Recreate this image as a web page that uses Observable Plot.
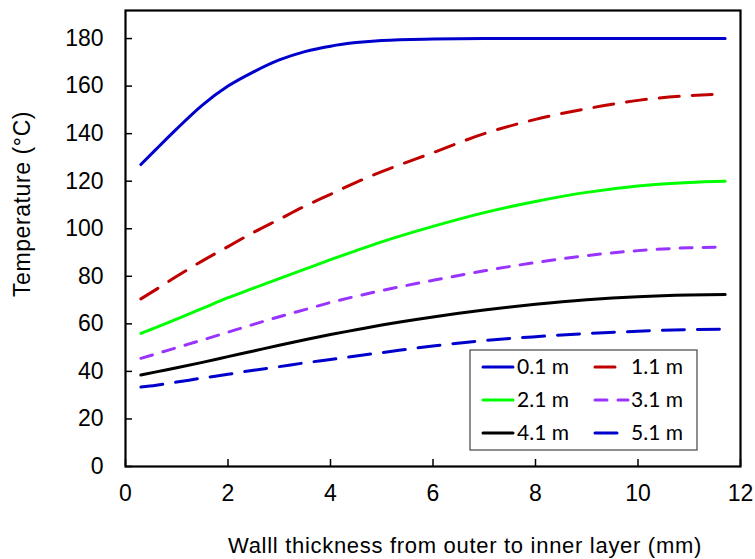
<!DOCTYPE html>
<html><head><meta charset="utf-8">
<script src="https://cdn.jsdelivr.net/npm/d3@7"></script>
<script src="https://cdn.jsdelivr.net/npm/@observablehq/plot@0.6"></script>
<style>body{margin:0;background:#fff} #chart{width:755px;height:559px}</style>
</head><body><div id="chart"></div>
<script>
// Wall thickness (mm) sample positions
const thickness = [0.3, 0.6, 1, 1.5, 2, 2.5, 3, 3.5, 4, 4.5, 5, 6, 7, 8, 9, 10, 11, 11.7];
// Temperature (°C) per series
const t01 = [127, 133.5, 142, 152, 160, 166, 171, 174.5, 176.8, 178.3, 179.2, 179.8, 180, 180, 180, 180, 180, 180];
const t11 = [70.5, 74.5, 80, 86.5, 92.5, 98.5, 104, 109.5, 114.5, 119.5, 124, 132, 140, 146, 150.5, 154, 156, 156.7];
const t21 = [56, 58.5, 62, 66.5, 71, 75, 79, 83, 87, 90.8, 94.5, 101, 106.8, 111.5, 115.3, 118, 119.5, 120];
const t31 = [45.5, 47.4, 50, 53.2, 56.5, 59.8, 63, 66, 69, 71.6, 74, 78.3, 82.3, 85.8, 88.7, 90.8, 92, 92.3];
const t41 = [38.5, 39.8, 41.5, 43.8, 46.2, 48.6, 51, 53.3, 55.5, 57.5, 59.5, 62.9, 65.8, 68.2, 70.1, 71.4, 72.1, 72.3];
const t51 = [33.4, 34.2, 35.5, 37.2, 38.8, 40.5, 42, 43.6, 45, 46.5, 47.9, 50.7, 53, 54.6, 55.9, 56.9, 57.6, 57.8];
const seriesNames = ["0.1 m", "1.1 m", "2.1 m", "3.1 m", "4.1 m", "5.1 m"];
const yTicks = [0, 20, 40, 60, 80, 100, 120, 140, 160, 180];
const xTicks = [0, 2, 4, 6, 8, 10, 12];
const xTitle = "Walll thickness from outer to inner layer (mm)";
const yTitle = "Temperature (°C)";

const seriesValues = [t01, t11, t21, t31, t41, t51];
const styles = [
  {stroke: "#0000CC", dash: null},
  {stroke: "#C00000", dash: "20,13"},
  {stroke: "#00FF00", dash: null},
  {stroke: "#9933FF", dash: "12,11"},
  {stroke: "#000000", dash: null},
  {stroke: "#0000CC", dash: "22,13"}
];

const data = [];
seriesNames.forEach((name, s) => {
  thickness.forEach((x, i) => data.push({series: name, x, y: seriesValues[s][i]}));
});

const W = 755, H = 559, mL = 125, mR = 15, mT = 10, mB = 93;
const pw = W - mL - mR, ph = H - mT - mB;

const lineMarks = seriesNames.map((name, s) =>
  Plot.line(data.filter(d => d.series === name), {
    x: "x", y: "y", stroke: styles[s].stroke, strokeWidth: 3,
    strokeDasharray: styles[s].dash, curve: "monotone-x"
  })
);

const chart = Plot.plot({
  width: W, height: H,
  marginLeft: mL, marginRight: mR, marginTop: mT, marginBottom: mB,
  style: {fontFamily: "'Liberation Sans', Arial, sans-serif", fontSize: "22px", background: "#fff", color: "#000"},
  x: {domain: [0, 12]},
  y: {domain: [0, 191.8]},
  marks: [
    Plot.axisY(yTicks, {tickSize: 0, tickPadding: 22, label: null, fontSize: 23, fill: "#000"}),
    Plot.axisX(xTicks, {tickSize: 0, tickPadding: 18, label: null, fontSize: 23, fill: "#000"}),
    Plot.tickY(yTicks, {y: d => d, insetRight: pw - 7, stroke: "#000", strokeWidth: 1.5}),
    Plot.tickX(xTicks, {x: d => d, insetTop: ph - 7, stroke: "#000", strokeWidth: 1.5}),
    ...lineMarks,
    Plot.frame({stroke: "#000", strokeWidth: 2.2})
  ]
});
document.getElementById("chart").appendChild(chart);

const svg = d3.select(chart);
// axis titles
svg.append("text")
  .attr("x", 465).attr("y", 553)
  .attr("text-anchor", "middle")
  .style("font-size", "22px").style("letter-spacing", "0.7px")
  .attr("fill", "#000")
  .text(xTitle);
svg.append("text")
  .attr("transform", "translate(30,204) rotate(-90)")
  .attr("text-anchor", "middle")
  .style("font-size", "23px").style("letter-spacing", "0.6px")
  .attr("fill", "#000")
  .text(yTitle);

// legend
const lg = svg.append("g");
lg.append("rect").attr("x", 470).attr("y", 350).attr("width", 227).attr("height", 100)
  .attr("fill", "#fff").attr("stroke", "#444").attr("stroke-width", 1.2);
const colX = [483, 595], colLen = [30, 33], textX = [517, 631], rowY = [367, 400, 433];
seriesNames.forEach((name, s) => {
  const c = s % 2, r = Math.floor(s / 2);
  lg.append("line")
    .attr("x1", colX[c]).attr("x2", colX[c] + colLen[c])
    .attr("y1", rowY[r]).attr("y2", rowY[r])
    .attr("stroke", styles[s].stroke).attr("stroke-width", 3)
    .attr("stroke-linecap", "round")
    .attr("stroke-dasharray", styles[s].dash);
  lg.append("text")
    .attr("x", textX[c]).attr("y", rowY[r] + 7)
    .attr("text-anchor", "start")
    .style("font-family", "Lato, 'Liberation Sans', sans-serif")
    .style("font-size", "21px")
    .attr("fill", "#000")
    .text(name);
});
</script>
</body></html>
